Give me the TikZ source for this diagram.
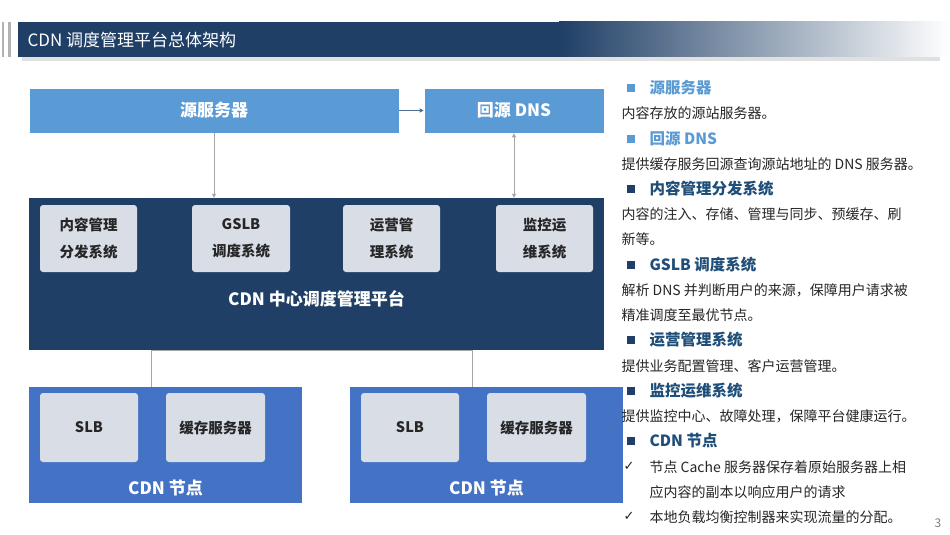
\documentclass[tikz,border=0pt]{standalone}
\usepackage{fontspec}
\setmainfont{Noto Sans CJK SC}
\usetikzlibrary{arrows.meta}
\definecolor{navy}{HTML}{1F3F66}
\definecolor{lblue}{HTML}{5B9BD5}
\definecolor{mblue}{HTML}{4472C4}
\definecolor{igray}{HTML}{D9DDE6}
\definecolor{hblue}{HTML}{1F4E79}
\definecolor{lhead}{HTML}{5B9BD5}
\tikzset{
 topbox/.style={fill=lblue,draw=white,line width=0.6pt,text=white,font=\fontsize{17}{20}\selectfont\bfseries},
 inbox/.style={fill=igray,rounded corners=3pt,text=black!85,font=\fontsize{14.5}{27}\selectfont\bfseries,align=center},
 conn/.style={draw=gray!70,line width=0.8pt},
 tip/.style={-{Triangle[length=4pt,width=4pt]}},
 bl/.style={fill=navy,minimum width=8pt,minimum height=8pt,inner sep=0pt},
 bll/.style={fill=lhead,minimum width=8pt,minimum height=8pt,inner sep=0pt},
 hd/.style={anchor=west,text=hblue,font=\fontsize{15.5}{18}\selectfont\bfseries},
 hdl/.style={anchor=west,text=lhead,font=\fontsize{15.5}{18}\selectfont\bfseries},
 bd/.style={anchor=west,text=black!85,font=\fontsize{14}{16}\selectfont}
}
\begin{document}
\begin{tikzpicture}[x=1pt,y=-1pt]
\useasboundingbox (0,0) rectangle (950,535);
\fill[white] (0,0) rectangle (950,535);
% header
\fill[black!12] (22,26) rectangle (940,61);
\fill[navy] (18,22) rectangle (560,57);
\shade[left color=navy,right color=white] (559,22) rectangle (950,57);
\fill[gray!60] (2,22) rectangle (4,57);
\fill[gray!60] (8,22) rectangle (11,57);
\node[anchor=west,text=white,font=\fontsize{17}{20}\selectfont] (title) at (24,40) {CDN 调度管理平台总体架构};
% top boxes
\node[topbox,minimum width=370,minimum height=45] (src) at (214,110.5) {源服务器};
\node[topbox,minimum width=180,minimum height=45] (dns) at (514,110.5) {回源 DNS};
\draw[draw=hblue!80,line width=0.8pt,tip] (src.east) -- (dns.west);
% platform
\node[fill=navy,minimum width=575,minimum height=152,inner sep=0] (plat) at (316.5,274) {};
\node[text=white,font=\fontsize{17}{20}\selectfont\bfseries] (platl) at (316.5,299) {CDN 中心调度管理平台};
\node[inbox,minimum width=97,minimum height=67] (b1) at (88.5,238.5) {内容管理\\分发系统};
\node[inbox,minimum width=98,minimum height=67] (b2) at (241,238.5) {GSLB\\调度系统};
\node[inbox,minimum width=97,minimum height=67] (b3) at (391.5,238.5) {运营管\\理系统};
\node[inbox,minimum width=97,minimum height=67] (b4) at (544.5,238.5) {监控运\\维系统};
\draw[conn,tip] (src.south) -- (src.south |- plat.north);
\draw[conn,{Triangle[length=4pt,width=4pt]}-{Triangle[length=4pt,width=4pt]}] (dns.south) -- (dns.south |- plat.north);
% nodes
\node[fill=mblue,minimum width=273,minimum height=116,inner sep=0] (n1) at (165.5,445) {};
\node[fill=mblue,minimum width=273,minimum height=116,inner sep=0] (n2) at (486.5,445) {};
\node[text=white,font=\fontsize{17}{20}\selectfont\bfseries] (n1l) at (165.5,488) {CDN 节点};
\node[text=white,font=\fontsize{17}{20}\selectfont\bfseries] (n2l) at (486.5,488) {CDN 节点};
\node[inbox,minimum width=98,minimum height=69] (s1) at (89,427.5) {SLB};
\node[inbox,minimum width=99,minimum height=69] (c1) at (215.5,427.5) {缓存服务器};
\node[inbox,minimum width=98,minimum height=69] (s2) at (410,427.5) {SLB};
\node[inbox,minimum width=99,minimum height=69] (c2) at (536.5,427.5) {缓存服务器};
\coordinate (j) at (316.5,350);
\draw[conn] (plat.south) -- (j);
\draw[conn] (n1.north -| 151,0) -- (151,350) -- (472,350) -- (n2.north -| 472,0);
% right text
\node[bll] (q1) at (631,88) {}; \node[hdl] (h1) at (646,88) {源服务器};
\node[bd] (t1) at (618,113) {内容存放的源站服务器。};
\node[bll] (q2) at (631,139) {}; \node[hdl] (h2) at (646,139) {回源 DNS};
\node[bd] (t2) at (618,164) {提供缓存服务回源查询源站地址的 DNS 服务器。};
\node[bl] (q3) at (631,189) {}; \node[hd] (h3) at (646,189) {内容管理分发系统};
\node[bd] (t3) at (618,214) {内容的注入、存储、管理与同步、预缓存、刷};
\node[bd] (t3b) at (618,239) {新等。};
\node[bl] (q4) at (631,265) {}; \node[hd] (h4) at (646,265) {GSLB 调度系统};
\node[bd] (t4) at (618,290) {解析 DNS 并判断用户的来源，保障用户请求被};
\node[bd] (t4b) at (618,315) {精准调度至最优节点。};
\node[bl] (q5) at (631,340) {}; \node[hd] (h5) at (646,340) {运营管理系统};
\node[bd] (t5) at (618,366) {提供业务配置管理、客户运营管理。};
\node[bl] (q6) at (631,391) {}; \node[hd] (h6) at (646,391) {监控运维系统};
\node[bd] (t6) at (618,416) {提供监控中心、故障处理，保障平台健康运行。};
\node[bl] (q7) at (631,441) {}; \node[hd] (h7) at (646,441) {CDN 节点};
\node[bd] (k1) at (620,466) {\fontspec{DejaVu Sans}\fontsize{13}{14}\selectfont ✓};
\node[bd] (t7) at (646,467) {节点 Cache 服务器保存着原始服务器上相};
\node[bd] (t7b) at (646,492) {应内容的副本以响应用户的请求};
\node[bd] (k2) at (620,516) {\fontspec{DejaVu Sans}\fontsize{13}{14}\selectfont ✓};
\node[bd] (t8) at (646,517) {本地负载均衡控制器来实现流量的分配。};
\node[text=gray,font=\fontsize{12}{13}\selectfont] (pg) at (938,523) {3};
\end{tikzpicture}
\end{document}
